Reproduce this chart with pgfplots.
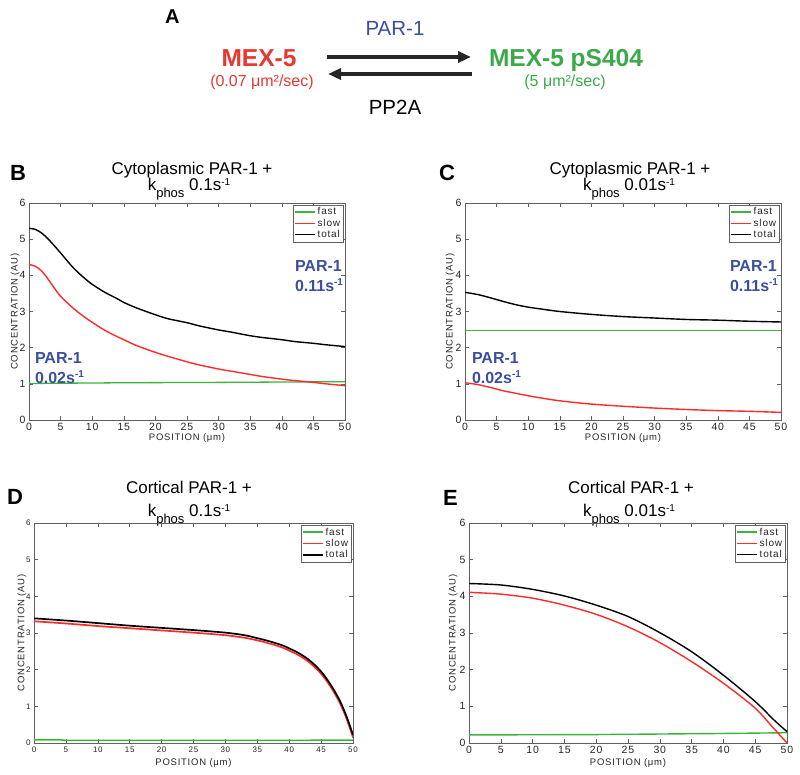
\documentclass[border=0pt]{standalone}
\usepackage{fontspec}
\setmainfont{Liberation Sans}
\newfontfamily\lsfont[LetterSpace=8]{Liberation Sans}
\usepackage{pgfplots}
\pgfplotsset{compat=1.18}
\usepackage{pgfplotstable}
\usetikzlibrary{arrows.meta}

\definecolor{cgreen}{HTML}{3CB43C}
\definecolor{cred}{HTML}{FF2A2A}
\definecolor{dred}{HTML}{E8392F}
\definecolor{dgreen}{HTML}{3AAA49}
\definecolor{pblue}{HTML}{3B4EA0}
\definecolor{axgray}{HTML}{606060}

\pgfplotstableread{
x black red
0 5.30 4.30
1 5.27 4.25
2 5.17 4.12
3 5.01 3.90
4 4.82 3.65
5 4.62 3.42
6 4.41 3.25
7 4.21 3.09
8 4.04 2.95
9 3.89 2.82
10 3.75 2.70
12 3.53 2.48
14 3.35 2.30
15 3.25 2.22
17 3.10 2.06
20 2.91 1.87
22 2.80 1.76
25 2.69 1.61
27 2.60 1.52
30 2.49 1.41
32 2.43 1.35
35 2.33 1.26
37 2.28 1.20
40 2.22 1.13
42 2.17 1.09
45 2.12 1.04
47 2.08 1.00
50 2.03 0.95
}\dataB
\pgfplotstableread{
x green
0 1.01
15 1.03
30 1.04
40 1.05
50 1.06
}\greenB

\pgfplotstableread{
x black red
0 3.53 1.03
2 3.47 0.98
4 3.38 0.90
6 3.28 0.81
8 3.19 0.74
10 3.12 0.67
12 3.07 0.61
15 3.00 0.53
20 2.92 0.44
25 2.86 0.38
30 2.82 0.33
35 2.78 0.29
40 2.76 0.26
45 2.73 0.24
50 2.71 0.21
}\dataC
\pgfplotstableread{
x green
0 2.48
50 2.48
}\greenC

\pgfplotstableread{
x black red
0 3.40 3.32
5 3.34 3.26
10 3.27 3.19
15 3.20 3.13
20 3.14 3.07
25 3.08 3.01
30 3.01 2.94
33 2.94 2.87
35 2.86 2.80
37 2.77 2.71
39 2.66 2.60
40 2.58 2.52
41 2.50 2.44
42 2.40 2.34
43 2.28 2.22
44 2.13 2.07
45 1.95 1.89
46 1.72 1.66
47 1.45 1.39
48 1.13 1.07
49 0.72 0.66
50 0.22 0.15
}\dataD
\pgfplotstableread{
x green
0 0.09
4 0.09
5 0.07
43 0.07
44 0.08
50 0.08
}\greenD

\pgfplotstableread{
x black red
0 4.35 4.11
5 4.31 4.06
10 4.19 3.95
15 4.01 3.76
20 3.76 3.51
25 3.45 3.17
30 3.01 2.74
35 2.49 2.22
40 1.85 1.63
45 1.13 0.95
48 0.62 0.38
50 0.31 0.00
}\dataE
\pgfplotstableread{
x green
0 0.22
20 0.23
30 0.245
40 0.26
50 0.28
}\greenE

\pgfplotsset{
  panel/.style={
    scale only axis,
    xmin=0, xmax=50, ymin=0, ymax=6,
    xtick={0,5,...,50}, ytick={0,1,...,6},
    axis line style={axgray, line width=0.6pt},
    tick style={axgray, line width=0.5pt},
    major tick length=4pt,
    tick align=inside,
    /pgf/number format/assume math mode=true,
    ticklabel style={font=\lsfont\fontsize{10.5}{12}\selectfont, text=black!85},
    xlabel={POSITION (μm)}, ylabel={CONCENTRATION (AU)},
    label style={font=\lsfont\fontsize{9.5}{11}\selectfont, text=black!85},
    legend style={at={(rel axis cs:0.994,0.992)}, anchor=north east,
      draw=axgray, fill=white, inner sep=1pt, row sep=-1pt,
      font=\lsfont\fontsize{10}{11}\selectfont, text=black!85,
      nodes={inner sep=1.8pt}},
    legend cell align=left,
  },
}

\newcommand{\kphos}[1]{k\raisebox{-7pt}{\fontsize{13}{13}\selectfont phos} #1s\raisebox{5pt}{\fontsize{10}{10}\selectfont -1}}
\newcommand{\pann}[2]{\textbf{#1}\raisebox{6pt}{\fontsize{10}{10}\selectfont\textbf{#2}}}
\newcommand{\threelegend}[1]{%
  \addlegendimage{legend image code/.code={\draw[cgreen, line width=#1] (0pt,0pt) -- (20pt,0pt);}}
  \addlegendentry{fast}
  \addlegendimage{legend image code/.code={\draw[cred, line width=#1] (0pt,0pt) -- (20pt,0pt);}}
  \addlegendentry{slow}
  \addlegendimage{legend image code/.code={\draw[black, line width=#1] (0pt,0pt) -- (20pt,0pt);}}
  \addlegendentry{total}}

\begin{document}
\begin{tikzpicture}[t/.style={inner sep=0pt, outer sep=0pt}]
\path[use as bounding box] (0pt,0pt) rectangle (800pt,-775pt);

% ---------- Panel A ----------
\node[t, anchor=base west, font=\bfseries\fontsize{20}{24}\selectfont] at (165pt,-24pt) {A};
\node[t, anchor=base, text=pblue, font=\fontsize{20.5}{24}\selectfont] at (395pt,-36pt) {PAR-1};
\node[t, anchor=base, font=\fontsize{20.5}{24}\selectfont] at (395pt,-115pt) {PP2A};
\node[t, anchor=base, text=dred, font=\bfseries\fontsize{24.5}{28}\selectfont] at (259pt,-67pt) {MEX-5};
\node[t, anchor=base, text=dgreen, font=\bfseries\fontsize{24.5}{28}\selectfont] at (566pt,-67pt) {MEX-5 pS404};
\node[t, anchor=base, text=dred, font=\fontsize{16}{18}\selectfont] at (262pt,-87pt) {(0.07 μm²/sec)};
\node[t, anchor=base, text=dgreen, font=\fontsize{16}{18}\selectfont] at (565pt,-87pt) {(5 μm²/sec)};
\draw[line width=3.5pt, black!85, -{Triangle[length=13pt,width=11pt]}] (327pt,-57pt) -- (471pt,-57pt);
\draw[line width=3.5pt, black!85, -{Triangle[length=13pt,width=11pt]}] (472pt,-74pt) -- (328pt,-74pt);

% ---------- Panel B ----------
\node[t, anchor=base west, font=\bfseries\fontsize{22}{26}\selectfont] at (10pt,-181pt) {B};
\node[t, anchor=base, font=\fontsize{17}{20}\selectfont] at (192pt,-175pt) {Cytoplasmic PAR-1 +};
\node[t, anchor=base, font=\fontsize{17}{20}\selectfont] at (189pt,-191pt) {\kphos{0.1}};
\begin{axis}[panel, at={(29pt,-420pt)}, anchor=south west, width=316pt, height=217pt,
  ylabel style={at={(axis description cs:-0.044,0.5)}, anchor=center},
  xlabel style={at={(axis description cs:0.5,-0.083)}, anchor=center}]
\threelegend{1.3pt}
\addplot[cgreen, line width=1.3pt, forget plot] table[x=x, y=green] {\greenB};
\addplot[cred, line width=1.4pt, smooth, forget plot] table[x=x, y=red] {\dataB};
\addplot[black, line width=1.4pt, smooth, forget plot] table[x=x, y=black] {\dataB};
\end{axis}
\node[t, anchor=base west, text=pblue, font=\fontsize{16}{18}\selectfont] at (35pt,-363pt) {\textbf{PAR-1}};
\node[t, anchor=base west, text=pblue, font=\fontsize{16}{18}\selectfont] at (35pt,-383pt) {\pann{0.02s}{-1}};
\node[t, anchor=base west, text=pblue, font=\fontsize{16}{18}\selectfont] at (295pt,-272pt) {\textbf{PAR-1}};
\node[t, anchor=base west, text=pblue, font=\fontsize{16}{18}\selectfont] at (295pt,-292pt) {\pann{0.11s}{-1}};

% ---------- Panel C ----------
\node[t, anchor=base west, font=\bfseries\fontsize{22}{26}\selectfont] at (439pt,-181pt) {C};
\node[t, anchor=base, font=\fontsize{17}{20}\selectfont] at (630pt,-175pt) {Cytoplasmic PAR-1 +};
\node[t, anchor=base, font=\fontsize{17}{20}\selectfont] at (629pt,-191pt) {\kphos{0.01}};
\begin{axis}[panel, at={(465pt,-420pt)}, anchor=south west, width=316pt, height=217pt,
  ylabel style={at={(axis description cs:-0.047,0.5)}, anchor=center},
  xlabel style={at={(axis description cs:0.5,-0.083)}, anchor=center}]
\threelegend{1.3pt}
\addplot[cgreen, line width=1.3pt, forget plot] table[x=x, y=green] {\greenC};
\addplot[cred, line width=1.4pt, smooth, forget plot] table[x=x, y=red] {\dataC};
\addplot[black, line width=1.4pt, smooth, forget plot] table[x=x, y=black] {\dataC};
\end{axis}
\node[t, anchor=base west, text=pblue, font=\fontsize{16}{18}\selectfont] at (472pt,-363pt) {\textbf{PAR-1}};
\node[t, anchor=base west, text=pblue, font=\fontsize{16}{18}\selectfont] at (472pt,-383pt) {\pann{0.02s}{-1}};
\node[t, anchor=base west, text=pblue, font=\fontsize{16}{18}\selectfont] at (730pt,-272pt) {\textbf{PAR-1}};
\node[t, anchor=base west, text=pblue, font=\fontsize{16}{18}\selectfont] at (730pt,-292pt) {\pann{0.11s}{-1}};

% ---------- Panel D ----------
\node[t, anchor=base west, font=\bfseries\fontsize{22}{26}\selectfont] at (7pt,-504pt) {D};
\node[t, anchor=base, font=\fontsize{17}{20}\selectfont] at (189pt,-493pt) {Cortical PAR-1 +};
\node[t, anchor=base, font=\fontsize{17}{20}\selectfont] at (189pt,-516pt) {\kphos{0.1}};
\begin{axis}[panel, at={(34pt,-743pt)}, anchor=south west, width=319pt, height=220pt,
  ticklabel style={font=\lsfont\fontsize{8}{9}\selectfont},
  ylabel style={at={(axis description cs:-0.038,0.5)}, anchor=center},
  xlabel style={at={(axis description cs:0.5,-0.092)}, anchor=center}]
\threelegend{1.6pt}
\addplot[cgreen, line width=1.6pt, forget plot] table[x=x, y=green] {\greenD};
\addplot[cred, line width=1.7pt, smooth, forget plot] table[x=x, y=red] {\dataD};
\addplot[black, line width=1.7pt, smooth, forget plot] table[x=x, y=black] {\dataD};
\end{axis}

% ---------- Panel E ----------
\node[t, anchor=base west, font=\bfseries\fontsize{22}{26}\selectfont] at (443pt,-505pt) {E};
\node[t, anchor=base, font=\fontsize{17}{20}\selectfont] at (631pt,-493pt) {Cortical PAR-1 +};
\node[t, anchor=base, font=\fontsize{17}{20}\selectfont] at (629pt,-516pt) {\kphos{0.01}};
\begin{axis}[panel, at={(469pt,-743pt)}, anchor=south west, width=318pt, height=220pt,
  ylabel style={at={(axis description cs:-0.05,0.5)}, anchor=center},
  xlabel style={at={(axis description cs:0.5,-0.092)}, anchor=center}]
\threelegend{1.3pt}
\addplot[cgreen, line width=1.4pt, forget plot] table[x=x, y=green] {\greenE};
\addplot[cred, line width=1.4pt, smooth, forget plot] table[x=x, y=red] {\dataE};
\addplot[black, line width=1.4pt, smooth, forget plot] table[x=x, y=black] {\dataE};
\end{axis}
\end{tikzpicture}
\end{document}
